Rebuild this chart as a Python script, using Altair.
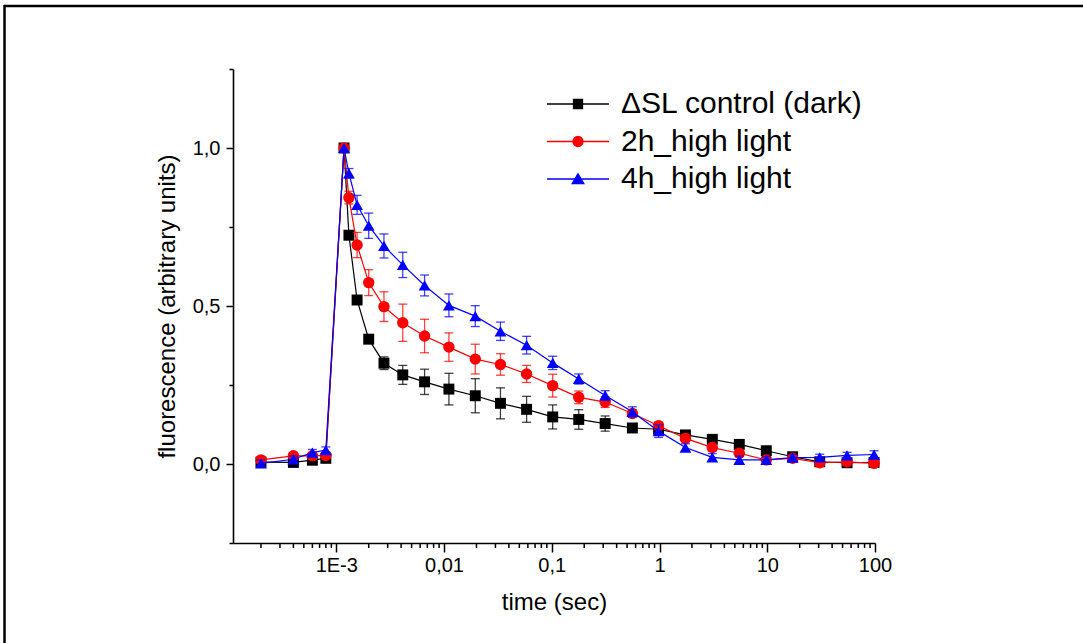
import altair as alt
import pandas as pd

# Delay times (s) after the excitation flash
time_s = [0.0002, 0.0004, 0.0006, 0.0008, 0.00118, 0.00131, 0.00156, 0.0020,
          0.00277, 0.00414, 0.0066, 0.0111, 0.0195, 0.0334, 0.0584, 0.102,
          0.178, 0.313, 0.56, 0.98, 1.74, 3.09, 5.5, 9.8, 17.2, 30.7, 55.0, 98.0]

# Normalised fluorescence and standard errors per condition
dark = [0.006, 0.005, 0.012, 0.018, 1.0, 0.724, 0.519, 0.395, 0.319, 0.282,
        0.26, 0.237, 0.216, 0.192, 0.173, 0.149, 0.141, 0.128, 0.114, 0.11,
        0.092, 0.078, 0.062, 0.042, 0.023, 0.007, 0.004, 0.005]
dark_err = [0.005, 0.005, 0.005, 0.005, 0.0, 0.01, 0.01, 0.01, 0.02, 0.03,
            0.04, 0.05, 0.054, 0.049, 0.041, 0.038, 0.031, 0.024, 0.008, 0.008,
            0.008, 0.008, 0.006, 0.006, 0.006, 0.006, 0.006, 0.015]

hl2 = [0.013, 0.026, 0.026, 0.027, 1.0, 0.843, 0.693, 0.574, 0.498, 0.447,
       0.405, 0.37, 0.332, 0.315, 0.285, 0.248, 0.211, 0.196, 0.16, 0.121,
       0.081, 0.052, 0.034, 0.013, 0.018, 0.004, 0.007, 0.002]
hl2_err = [0.01, 0.01, 0.01, 0.01, 0.0, 0.02, 0.04, 0.041, 0.047, 0.059,
           0.053, 0.045, 0.047, 0.034, 0.027, 0.036, 0.02, 0.017, 0.012, 0.012,
           0.01, 0.01, 0.01, 0.008, 0.008, 0.008, 0.01, 0.01]

hl4 = [0.002, 0.015, 0.036, 0.044, 1.0, 0.92, 0.82, 0.754, 0.69, 0.63,
       0.565, 0.502, 0.468, 0.42, 0.376, 0.32, 0.269, 0.217, 0.165, 0.104,
       0.052, 0.021, 0.013, 0.013, 0.02, 0.021, 0.027, 0.03]
hl4_err = [0.01, 0.01, 0.01, 0.01, 0.0, 0.015, 0.03, 0.04, 0.038, 0.04,
           0.033, 0.036, 0.033, 0.029, 0.028, 0.021, 0.016, 0.015, 0.016, 0.02,
           0.012, 0.012, 0.012, 0.01, 0.01, 0.01, 0.01, 0.012]

series_names = ["\u0394SL control (dark)", "2h_high light", "4h_high light"]
series_colors = ["#000000", "#ff0000", "#0000ff"]
series_shapes = ["square", "circle", "triangle-up"]
series_sizes = [120, 130, 140]
series_values = [dark, hl2, hl4]
series_errors = [dark_err, hl2_err, hl4_err]

# Legend glyphs (unit = sqrt(symbolSize)/2 px): a line with the marker in its middle
legend_paths = [
    "M-3.1,0H3.1M-0.45,-0.45H0.45V0.45H-0.45Z",
    "M-3.1,0H3.1M0.5,0A0.5,0.5,0,1,1,-0.5,0A0.5,0.5,0,1,1,0.5,0Z",
    "M-3.1,0H3.1M0,-0.52L0.58,0.45H-0.58Z",
]

FONT = "Liberation Sans"

x_major = [1e-3, 1e-2, 1e-1, 1.0, 10.0, 100.0]
x_minor = [k * 10.0 ** e for e in range(-4, 2) for k in range(2, 10)]
y_ticks = [-0.25, 0.0, 0.25, 0.5, 0.75, 1.0, 1.25]

x_scale = alt.Scale(type="log", domain=[1.1e-4, 100], nice=False)
y_scale = alt.Scale(domain=[-0.25, 1.25], nice=False, zero=False)

x_axis = alt.Axis(
    values=x_major, tickCount=50,
    labelExpr=("datum.value < 0.005 ? '1E-3' : "
               "replace(format(datum.value, '~g'), '.', ',')"),
    tickSize=9, tickWidth=1.5, tickColor="black",
    domainWidth=1.6, domainColor="black",
    labelFont=FONT, labelFontSize=20, labelColor="black",
    labelPadding=3, labelOverlap=False, labelFlush=False,
    title="time (sec)", titleFont=FONT, titleFontSize=24,
    titleFontWeight="normal", titleColor="black", titlePadding=15,
    grid=False,
)
y_axis = alt.Axis(
    values=y_ticks, tickCount=50,
    labelExpr=("abs(datum.value*2 - round(datum.value*2)) < 0.001 ? "
               "replace(format(datum.value, '.1f'), '.', ',') : ''"),
    tickSize={"condition": {"test": "abs(datum.value*2 - round(datum.value*2)) < 0.001",
                            "value": 7}, "value": 4},
    tickWidth=1.5, tickColor="black",
    domainWidth=1.6, domainColor="black",
    labelFont=FONT, labelFontSize=20, labelColor="black",
    labelPadding=6, labelOverlap=False,
    title="fluorescence (arbitrary units)", titleFont=FONT, titleFontSize=24,
    titleFontWeight="normal", titleColor="black", titlePadding=13,
    grid=False,
)

rows = []
for name, vals, errs in zip(series_names, series_values, series_errors):
    for i, (t, v, e) in enumerate(zip(time_s, vals, errs)):
        rows.append({"series": name, "t": t, "f": v, "lo": v - e, "hi": v + e, "i": i})
df = pd.DataFrame(rows)


def X(field="t"):
    return alt.X(f"{field}:Q", scale=x_scale, axis=x_axis)


def Y(field="f"):
    return alt.Y(f"{field}:Q", scale=y_scale, axis=y_axis)


layers = []

# Outer frame (top and left edges)
frame_src = pd.DataFrame({"k": [0]})
layers.append(alt.Chart(frame_src).mark_rule(color="black", strokeWidth=2.5).encode(
    x=alt.value(-229), x2=alt.value(850), y=alt.value(-63)))
layers.append(alt.Chart(frame_src).mark_rule(color="black", strokeWidth=2.5).encode(
    x=alt.value(-228.5), y=alt.value(-64), y2=alt.value(574)))

# Short 2..9 ticks hanging under the time axis
minor_src = pd.DataFrame({"v": [v for v in x_minor if 1.1e-4 <= v <= 100]})
layers.append(alt.Chart(minor_src).mark_tick(
    color="black", orient="vertical", size=5, thickness=1.5, opacity=1).encode(
    x=X("v"), y=alt.value(476.5)))

for name, color, shape, size in zip(series_names, series_colors, series_shapes, series_sizes):
    base = alt.Chart(df).transform_filter(alt.datum.series == name)
    line = base.mark_line(color=color, strokeWidth=1.2).encode(x=X(), y=Y(), order="i:Q")
    bar = base.transform_filter("datum.hi > datum.lo").mark_rule(
        color=color, strokeWidth=1.3, opacity=0.75).encode(x=X(), y=Y("lo"), y2="hi:Q")
    cap_lo = base.transform_filter("datum.hi > datum.lo").mark_tick(
        color=color, orient="horizontal", size=9, thickness=1.3, opacity=0.75).encode(x=X(), y=Y("lo"))
    cap_hi = base.transform_filter("datum.hi > datum.lo").mark_tick(
        color=color, orient="horizontal", size=9, thickness=1.3, opacity=0.75).encode(x=X(), y=Y("hi"))
    pts = base.mark_point(shape=shape, filled=True, size=size, color=color,
                          opacity=1, strokeWidth=0).encode(x=X(), y=Y())
    layers += [line, bar, cap_lo, cap_hi, pts]

# Legend source: no marks drawn, only the scales feeding the legend
legend_def = alt.Legend(
    title=None, orient="none", legendX=330, legendY=20,
    labelFont=FONT, labelFontSize=30, labelColor="black", labelOffset=28,
    symbolSize=400, symbolStrokeWidth=1.3, symbolOpacity=1,
    rowPadding=7.5, padding=0, labelLimit=400,
)
legend_layer = alt.Chart(pd.DataFrame({"series": series_names})).transform_filter(
    "false").mark_point(filled=True, opacity=1, size=400, strokeWidth=1.3).encode(
    fill=alt.Fill("series:N", scale=alt.Scale(domain=series_names, range=series_colors),
                  legend=legend_def),
    stroke=alt.Stroke("series:N", scale=alt.Scale(domain=series_names, range=series_colors),
                      legend=legend_def),
    shape=alt.Shape("series:N", scale=alt.Scale(domain=series_names, range=legend_paths),
                    legend=legend_def),
)
layers.append(legend_layer)

chart = alt.layer(*layers).properties(
    width=642, height=474,
    autosize=alt.AutoSizeParams(type="none"),
    padding={"left": 233, "top": 69, "right": 208, "bottom": 100},
    background="white",
).configure_view(stroke=None)

chart.save("out.html", embed_options={"renderer": "svg", "actions": False})
